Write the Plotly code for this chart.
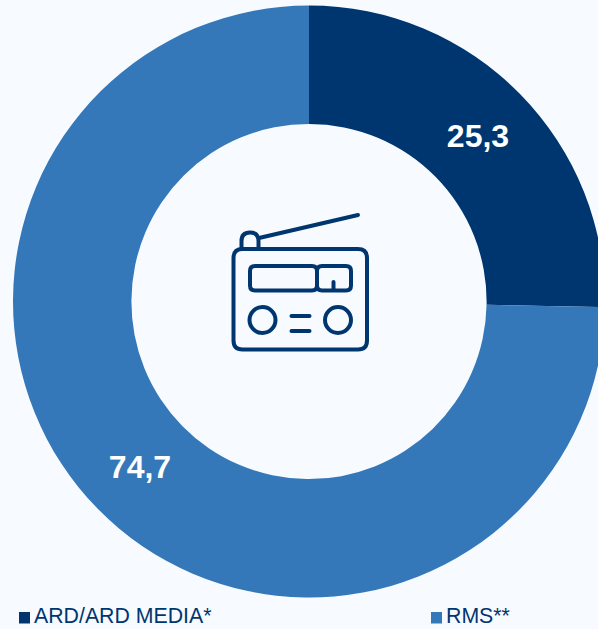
import plotly.graph_objects as go

# Audience share per radio sales house, in percent
categories = ["ARD/ARD MEDIA*", "RMS**"]
shares = [25.3, 74.7]
colors = ["#003670", "#3478B9"]
page_color = "#F7FBFF"
ink = "#003670"

# The ring runs slightly past the right edge of the window
W, H = 618, 629


def fx(x):
    return x / W


def fy(y):
    return 1 - y / H


def stroke(**extra):
    base = dict(
        xref="paper", yref="paper", layer="above",
        line=dict(color=ink, width=4),
    )
    base.update(extra)
    return base


def pill(x0, y0, x1, y1, r):
    """Rounded rectangle path, given in pixels from the top left."""
    pts = [
        f"M{fx(x0 + r)},{fy(y0)}", f"L{fx(x1 - r)},{fy(y0)}",
        f"Q{fx(x1)},{fy(y0)} {fx(x1)},{fy(y0 + r)}", f"L{fx(x1)},{fy(y1 - r)}",
        f"Q{fx(x1)},{fy(y1)} {fx(x1 - r)},{fy(y1)}", f"L{fx(x0 + r)},{fy(y1)}",
        f"Q{fx(x0)},{fy(y1)} {fx(x0)},{fy(y1 - r)}", f"L{fx(x0)},{fy(y0 + r)}",
        f"Q{fx(x0)},{fy(y0)} {fx(x0 + r)},{fy(y0)}", "Z",
    ]
    return stroke(type="path", path=" ".join(pts))


def seg(x0, y0, x1, y1):
    return stroke(type="line", x0=fx(x0), y0=fy(y0), x1=fx(x1), y1=fy(y1))


def ring(cx, cy, r):
    return stroke(type="circle", x0=fx(cx - r), x1=fx(cx + r), y0=fy(cy - r), y1=fy(cy + r))


# Radio pictogram in the hole of the ring
radio = [
    pill(233.5, 249, 367, 349.5, 9),
    pill(250, 266, 317, 290.5, 5),
    pill(317, 266, 351, 290.5, 5),
    seg(333.5, 282, 333.5, 290),
    ring(262.5, 320, 13),
    ring(338, 320, 13),
    seg(291.5, 316, 309.5, 316),
    seg(291.5, 331, 309.5, 331),
    seg(259, 238, 358, 215),
    stroke(type="path", path=(
        f"M{fx(241.5)},{fy(248)} L{fx(241.5)},{fy(241)} "
        f"Q{fx(241.5)},{fy(232.5)} {fx(250)},{fy(232.5)} "
        f"Q{fx(258.5)},{fy(232.5)} {fx(258.5)},{fy(241)} L{fx(258.5)},{fy(248)}"
    )),
]

# Legend: one square and one caption per category
legend_x = [19, 431]
swatches = [
    dict(type="rect", xref="paper", yref="paper", x0=fx(x), x1=fx(x + 11),
         y0=fy(612), y1=fy(623.5), fillcolor=c, line=dict(width=0))
    for x, c in zip(legend_x, colors)
]
captions = [
    dict(text=name, xref="paper", yref="paper", x=fx(x + 13.3), y=fy(616),
         xanchor="left", yanchor="middle", showarrow=False,
         font=dict(family="Liberation Sans", size=21.3, color=ink))
    for x, name in zip(legend_x, categories)
]

fig = go.Figure(go.Pie(
    labels=categories,
    values=shares,
    hole=0.6,
    sort=False,
    direction="clockwise",
    rotation=0,
    marker=dict(colors=colors, line=dict(width=0)),
    texttemplate="%{value:.1f}",
    textposition="inside",
    insidetextorientation="horizontal",
    insidetextfont=dict(family="Liberation Sans", size=32, color="white", weight="bold"),
    domain=dict(x=[fx(13), fx(605)], y=[fy(597.5), fy(5.5)]),
    showlegend=False,
))

fig.update_layout(
    width=W, height=H,
    margin=dict(l=0, r=0, t=0, b=0),
    paper_bgcolor=page_color,
    separators=",.",
    shapes=radio + swatches,
    annotations=captions,
)

page_script = (
    "document.documentElement.style.overflow='hidden';"
    "document.body.style.overflow='hidden';"
    f"document.body.style.background='{page_color}';"
    "var s=document.createElement('style');"
    "s.textContent='.shapelayer path{stroke-linecap:round;stroke-linejoin:round}';"
    "document.head.appendChild(s);"
)
fig.write_html("out.html", config=dict(displayModeBar=False), post_script=page_script)
